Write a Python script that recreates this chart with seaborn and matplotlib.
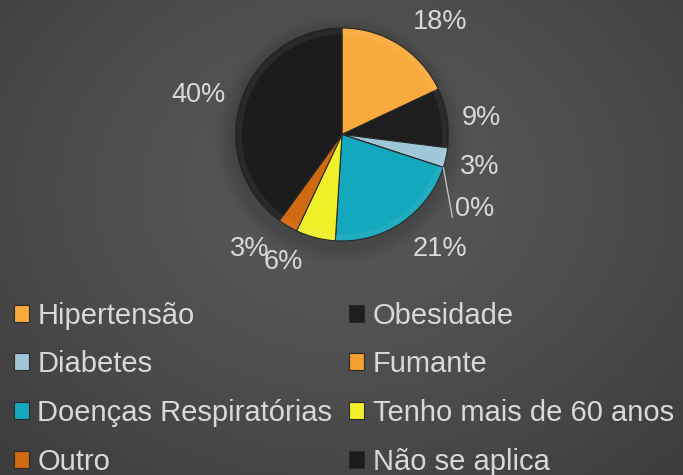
import numpy as np
import matplotlib
matplotlib.use("Agg")
import matplotlib.pyplot as plt
from matplotlib.patches import Rectangle, Wedge
import seaborn as sns

categories = ["Hipertensão", "Obesidade", "Diabetes", "Fumante",
              "Doenças Respiratórias", "Tenho mais de 60 anos", "Outro", "Não se aplica"]
shares = [18, 9, 3, 0, 21, 6, 3, 40]
colors = ["#F9AA3C", "#1E1E1E", "#9FC6D9", "#F2A030",
          "#14A8BE", "#F0EF2A", "#D06A10", "#1C1C1C"]

sns.set_theme(style="dark")
plt.rcParams["font.family"] = ["Liberation Sans", "DejaVu Sans"]

W, H = 683, 475
fig = plt.figure(figsize=(W / 100, H / 100), dpi=100)

# radial dark-gray backdrop
bg = fig.add_axes([0, 0, 1, 1])
yy, xx = np.mgrid[0:H, 0:W]
d = np.hypot((xx - 342) / 520.0, (yy - 190) / 420.0)
lum = 0.345 - 0.12 * np.clip(d, 0, 1.3) ** 1.4
# soft shadow beneath the pie
sd = np.hypot(xx - 340, yy - 140) - 106
lum -= 0.06 * np.exp(-np.clip(sd, 0, None) ** 2 / (2 * 9.0 ** 2)) * (sd > -20)
img = np.dstack([lum, lum, lum])
bg.imshow(np.clip(img, 0, 1), extent=[0, W, H, 0], aspect="auto", interpolation="bilinear")
bg.set_axis_off()

# pie axes: 300 px square, centre at (342, 134.5) from top
cx, cy, size = 342, 134.5, 300
ax = fig.add_axes([(cx - size / 2) / W, (H - cy - size / 2) / H, size / W, size / H])
r_px = 106.5
lim = (size / 2) / r_px
wedges, _ = ax.pie(shares, colors=colors, startangle=90, counterclock=False,
                   radius=1.0, wedgeprops=dict(edgecolor="#2a2a2a", linewidth=0.8))
# faint rim highlight to suggest the bevel
for w in wedges:
    ax.add_patch(Wedge((0, 0), 0.99, w.theta1, w.theta2, width=0.05,
                       facecolor="white", alpha=0.06, edgecolor="none"))
ax.set_xlim(-lim, lim)
ax.set_ylim(-lim, lim)
ax.set_aspect("equal")
ax.set_axis_off()

# percentage labels placed around the wedges (angle nudge, radial distance)
nudges = [(-8.7, 1.40), (-2.1, 1.32), (-0.8, 1.33), (-11.3, 1.43),
          (6.4, 1.415), (-10.4, 1.32), (-8.2, 1.38), (2.7, 1.40)]
txt_col = "#D9D9D9"
for w, v, (da, dist) in zip(wedges, shares, nudges):
    mid = np.deg2rad((w.theta1 + w.theta2) / 2 + da)
    x, y = dist * np.cos(mid), dist * np.sin(mid)
    ax.text(x, y, f"{v}%", ha="center", va="center", fontsize=19.5, color=txt_col, clip_on=False)
    if v == 0:
        edge = np.deg2rad(w.theta1)
        ax.plot([np.cos(edge), x - 0.21], [np.sin(edge), y - 0.08],
                color="#BFBFBF", lw=1.0, clip_on=False)

# legend, two columns filled row by row
handles = [Rectangle((0, 0), 1, 1, facecolor=c, edgecolor="#2a2a2a", linewidth=0.8) for c in colors]
order = [0, 2, 4, 6, 1, 3, 5, 7]
leg = fig.legend([handles[i] for i in order], [categories[i] for i in order], ncol=2,
                 loc="upper left", bbox_to_anchor=(14 / W, 1 - 301.5 / H), frameon=False,
                 fontsize=21, handlelength=0.52, handleheight=0.52, handletextpad=0.28,
                 columnspacing=0.58, labelspacing=0.71, borderpad=0, borderaxespad=0)
for t in leg.get_texts():
    t.set_color(txt_col)

fig.savefig("out.png", dpi=100)
